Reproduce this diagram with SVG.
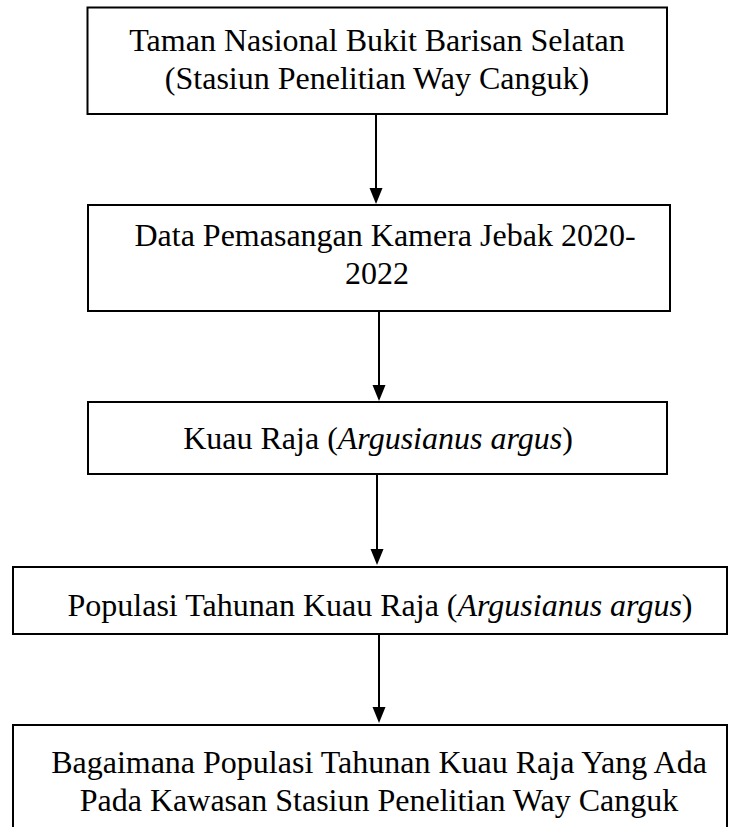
<svg xmlns="http://www.w3.org/2000/svg" width="729" height="827" viewBox="0 0 729 827">
<defs>
<style>
.box{fill:#fff;stroke:#000;stroke-width:2}
.t{font-size:32px;fill:#000;text-anchor:middle}
.c{stroke:#000;stroke-width:2;fill:none}
.h{fill:#000}
</style>
</defs>
<rect width="729" height="827" fill="#fff"/>
<g id="n1">
<rect class="box" x="87.5" y="7.5" width="579.5" height="106.5"/>
<text class="t" font-family="Liberation Serif, serif" x="377" y="51">Taman Nasional Bukit Barisan Selatan</text>
<text class="t" font-family="Liberation Serif, serif" x="377" y="89">(Stasiun Penelitian Way Canguk)</text>
</g>
<g id="n2">
<rect class="box" x="88" y="205" width="582" height="106"/>
<text class="t" font-family="Liberation Serif, serif" x="385" y="246">Data Pemasangan Kamera Jebak 2020-</text>
<text class="t" font-family="Liberation Serif, serif" x="377" y="284">2022</text>
</g>
<g id="n3">
<rect class="box" x="88" y="402" width="579" height="72"/>
<text class="t" font-family="Liberation Serif, serif" x="378" y="449">Kuau Raja (<tspan font-family="Liberation Serif" font-style="italic">Argusianus argus</tspan>)</text>
</g>
<g id="n4">
<rect class="box" x="13" y="567" width="714" height="67"/>
<text class="t" font-family="Liberation Serif, serif" x="380" y="616">Populasi Tahunan Kuau Raja (<tspan font-family="Liberation Serif" font-style="italic">Argusianus argus</tspan>)</text>
</g>
<g id="n5">
<rect class="box" x="13" y="725" width="714" height="120"/>
<text class="t" font-family="Liberation Serif, serif" x="379" y="773">Bagaimana Populasi Tahunan Kuau Raja Yang Ada</text>
<text class="t" font-family="Liberation Serif, serif" x="379" y="811">Pada Kawasan Stasiun Penelitian Way Canguk</text>
</g>
<g id="connectors">
<line class="c" x1="376" y1="114" x2="376" y2="188"/>
<path class="h" d="M369.5,188 L382.5,188 L376,204 Z"/>
<line class="c" x1="379" y1="311" x2="379" y2="385"/>
<path class="h" d="M372.5,385 L385.5,385 L379,401 Z"/>
<line class="c" x1="377" y1="474" x2="377" y2="549"/>
<path class="h" d="M370.5,549 L383.5,549 L377,565 Z"/>
<line class="c" x1="379" y1="634" x2="379" y2="707"/>
<path class="h" d="M372.5,707 L385.5,707 L379,723 Z"/>
</g>
</svg>
